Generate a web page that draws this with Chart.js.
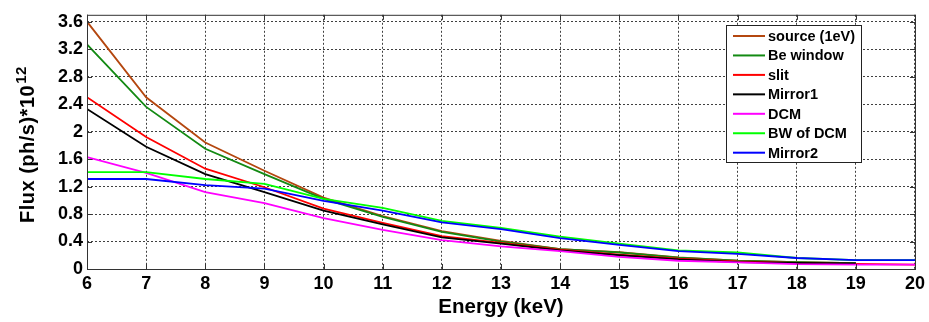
<!DOCTYPE html>
<html><head><meta charset="utf-8">
<script src="https://cdn.jsdelivr.net/npm/chart.js@4/dist/chart.umd.min.js"></script>
<style>html,body{margin:0;padding:0;background:#fff;}#wrap{width:929px;height:322px;}</style>
</head><body><div id="wrap"><canvas id="c" width="929" height="322"></canvas></div>
<script>
const energy = [6,7,8,9,10,11,12,13,14,15,16,17,18,19,20];
const source = [3.6,2.5,1.84,1.43,1.04,0.77,0.55,0.41,0.29,0.245,0.17,0.12,0.10,0.085,null];
const beWindow = [3.27,2.36,1.75,1.38,1.02,0.76,0.54,0.40,0.29,0.24,0.165,0.12,0.10,0.085,null];
const slit = [2.5,1.92,1.46,1.19,0.88,0.67,0.48,0.38,0.28,0.21,0.15,0.11,0.09,0.075,0.065];
const mirror1 = [2.33,1.78,1.38,1.12,0.85,0.65,0.46,0.37,0.27,0.20,0.14,0.10,0.09,0.08,null];
const dcm = [1.63,1.40,1.12,0.96,0.74,0.57,0.42,0.33,0.26,0.175,0.12,0.095,0.07,0.065,0.065];
const bwDcm = [1.41,1.41,1.31,1.24,1.02,0.89,0.70,0.60,0.47,0.37,0.27,0.24,0.16,0.13,0.13];
const mirror2 = [1.31,1.31,1.22,1.17,0.99,0.85,0.68,0.58,0.45,0.35,0.26,0.22,0.16,0.13,0.13];
const seriesNames = ['source (1eV)','Be window','slit','Mirror1','DCM','BW of DCM','Mirror2'];
const seriesData = [source,beWindow,slit,mirror1,dcm,bwDcm,mirror2];
const seriesColors = ['#b4470f','#138a13','#ff0000','#000000','#ff00ff','#00ff00','#0000ff'];
const yTicks = [0,0.4,0.8,1.2,1.6,2,2.4,2.8,3.2,3.6];
const xTicks = energy;
const yTitleBase = 'Flux (ph/s)*10';
const yTitleSup = '12';
const xTitle = 'Energy (keV)';

const datasets = seriesData.map((arr,i)=>({
  label: seriesNames[i],
  data: energy.map((e,j)=>({x:e,y:arr[j]})),
  borderColor: seriesColors[i],
  backgroundColor: seriesColors[i],
  borderWidth: 1.8,
  pointRadius: 0,
  tension: 0,
  fill: false,
  spanGaps: false,
  order: seriesData.length - i
}));

const boxPlugin = {
  id:'boxPlugin',
  afterDatasetsDraw(chart){
    const {ctx, chartArea:a, scales:{x,y}} = chart;
    ctx.save();
    ctx.strokeStyle = '#333';
    ctx.lineWidth = 1;
    ctx.setLineDash([]);
    ctx.strokeRect(a.left+0.5, a.top+0.5, a.right-a.left, a.bottom-a.top);
    ctx.beginPath();
    xTicks.forEach(v=>{const px=Math.round(x.getPixelForValue(v))+0.5;
      ctx.moveTo(px,a.bottom);ctx.lineTo(px,a.bottom-5);
      ctx.moveTo(px,a.top);ctx.lineTo(px,a.top+5);});
    yTicks.forEach(v=>{const py=Math.round(y.getPixelForValue(v))+0.5;
      ctx.moveTo(a.left,py);ctx.lineTo(a.left+5,py);
      ctx.moveTo(a.right,py);ctx.lineTo(a.right-5,py);});
    ctx.stroke();
    // legend
    const L=726.5,T=25.5,W=135,H=137;
    ctx.fillStyle='#fff';
    ctx.fillRect(L,T,W,H);
    ctx.strokeStyle='#222';
    ctx.strokeRect(L,T,W,H);
    ctx.font='bold 14.5px "Liberation Sans", Arial, sans-serif';
    ctx.textBaseline='middle';
    ctx.textAlign='left';
    chart.data.datasets.forEach((ds,i)=>{
      const cy = 36 + i*19.45;
      ctx.strokeStyle=ds.borderColor; ctx.lineWidth=2;
      ctx.beginPath(); ctx.moveTo(733,cy); ctx.lineTo(765,cy); ctx.stroke();
      ctx.fillStyle='#000';
      ctx.fillText(ds.label,768,cy+1);
    });
    ctx.restore();
    // y axis title with superscript
    ctx.save();
    ctx.translate(34, 223);
    ctx.rotate(-Math.PI/2);
    ctx.fillStyle='#000';
    ctx.textBaseline='alphabetic';
    ctx.textAlign='left';
    ctx.font='bold 20px "Liberation Sans", Arial, sans-serif';
    try{ctx.letterSpacing='0.5px';}catch(e){}
    ctx.fillText(yTitleBase,0,0);
    const w = ctx.measureText(yTitleBase).width;
    ctx.font='bold 15px "Liberation Sans", Arial, sans-serif';
    ctx.fillText(yTitleSup,w+1,-8);
    ctx.restore();
  }
};

new Chart(document.getElementById('c'),{
  type:'line',
  data:{datasets},
  options:{
    responsive:false,
    animation:false,
    devicePixelRatio:1,
    layout:{padding:{top:8,right:12,left:0,bottom:0}},
    plugins:{legend:{display:false},tooltip:{enabled:false}},
    scales:{
      x:{type:'linear',min:6,max:20,
        afterBuildTicks(ax){ax.ticks=xTicks.map(v=>({value:v}));},
        afterFit(ax){ax.height=53;},
        grid:{color:'rgba(0,0,0,0.75)',lineWidth:1,drawTicks:false},
        border:{display:false,dash:[2,2]},
        ticks:{color:'#000',padding:4,maxRotation:0,autoSkip:false,font:{family:'"Liberation Sans", Arial, sans-serif',size:18,weight:'bold'}},
        title:{display:true,text:xTitle,color:'#000',padding:{top:0,bottom:2},font:{family:'"Liberation Sans", Arial, sans-serif',size:20.5,weight:'bold'}}
      },
      y:{type:'linear',min:0,max:3.7,
        afterBuildTicks(ax){ax.ticks=yTicks.map(v=>({value:v}));},
        afterFit(ax){ax.width=87;},
        grid:{color:'rgba(0,0,0,0.75)',lineWidth:1,drawTicks:false},
        border:{display:false,dash:[2,2]},
        ticks:{color:'#000',padding:4,autoSkip:false,font:{family:'"Liberation Sans", Arial, sans-serif',size:18,weight:'bold'},
          callback:(v)=>String(Math.round(v*10)/10)},
        title:{display:false}
      }
    }
  },
  plugins:[boxPlugin]
});
</script></body></html>
